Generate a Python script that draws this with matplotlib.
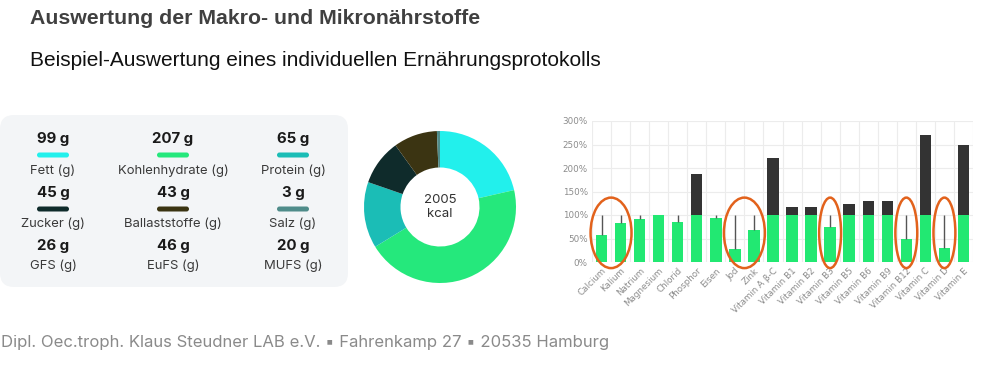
import numpy as np
import matplotlib
matplotlib.use("Agg")
import matplotlib.pyplot as plt
from matplotlib.patches import FancyBboxPatch, Ellipse

# --- data ---
macro_names = ["Fett (g)", "Kohlenhydrate (g)", "Protein (g)",
               "Zucker (g)", "Ballaststoffe (g)", "Salz (g)",
               "GFS (g)", "EuFS (g)", "MUFS (g)"]
macro_grams = [99, 207, 65, 45, 43, 3, 26, 46, 20]
macro_colors = ["#22f0ec", "#25e87c", "#1bbdb6", "#0f2b2b", "#3b3412", "#4f8c8a",
                None, None, None]

donut_values = macro_grams[:6]
donut_colors = macro_colors[:6]
kcal_total = 2005

micro_names = ["Calcium", "Kalium", "Natrium", "Magnesium", "Chlorid", "Phosphor",
               "Eisen", "Jod", "Zink", "Vitamin A β-C", "Vitamin B1", "Vitamin B2",
               "Vitamin B3", "Vitamin B5", "Vitamin B6", "Vitamin B9", "Vitamin B12",
               "Vitamin C", "Vitamin D", "Vitamin E"]
micro_pct = [57, 83, 91, 100, 86, 187, 94, 28, 69, 221, 116, 118,
             74, 124, 130, 130, 50, 270, 29, 250]
yticks = [0, 50, 100, 150, 200, 250, 300]

# groups marked with orange rings
marked = [["Calcium", "Kalium"], ["Jod", "Zink"], ["Vitamin B3"],
          ["Vitamin B12"], ["Vitamin D"]]

W, H = 983, 379
fig = plt.figure(figsize=(W / 100, H / 100), dpi=100)
fig.patch.set_facecolor("white")

def px_axes(x0, y0, x1, y1):
    # pixel box (top-left origin) -> figure axes
    return fig.add_axes([x0 / W, 1 - y1 / H, (x1 - x0) / W, (y1 - y0) / H])

# overlay for texts and the card
ov = px_axes(0, 0, W, H)
ov.set_xlim(0, W)
ov.set_ylim(H, 0)
ov.axis("off")

ui = ["Inter", "DejaVu Sans"]

ov.text(30, 18, "Auswertung der Makro- und Mikronährstoffe", fontsize=15.3,
        fontweight="bold", color="#404040", family="Liberation Sans", va="center")
ov.text(30, 60, "Beispiel-Auswertung eines individuellen Ernährungsprotokolls",
        fontsize=15, color="#111111", family="Liberation Sans", va="center")
ov.text(1, 342, "Dipl. Oec.troph. Klaus Steudner LAB e.V. ▪ Fahrenkamp 27 ▪ 20535 Hamburg",
        fontsize=12, color="#8a8a8a", family=ui, va="center")

card = FancyBboxPatch((0, 115), 348, 172, boxstyle="round,pad=0,rounding_size=14",
                      facecolor="#f3f5f7", edgecolor="none")
ov.add_patch(card)

col_x = [53, 173, 293]
row_val = [139, 193, 246]
row_lab = [171, 224, 266]
row_bar = [155, 209]
for i, (name, g, c) in enumerate(zip(macro_names, macro_grams, macro_colors)):
    r, k = divmod(i, 3)
    x = col_x[k]
    ov.text(x, row_val[r], f"{g} g", fontsize=10.8, fontweight="bold", color="#1a1a1a",
            family=ui, ha="center", va="center")
    ov.text(x, row_lab[r], name, fontsize=9.4, color="#3a3a3a", family=ui,
            ha="center", va="center")
    if c is not None:
        bar = FancyBboxPatch((x - 16, row_bar[r] - 2.5), 32, 5,
                             boxstyle="round,pad=0,rounding_size=2.5",
                             facecolor=c, edgecolor="none")
        ov.add_patch(bar)

# donut
ax_d = px_axes(440 - 76, 207 - 76, 440 + 76, 207 + 76)
ax_d.pie(donut_values, colors=donut_colors, startangle=90, counterclock=False,
         radius=1, wedgeprops=dict(width=0.48, edgecolor="none"))
ax_d.set_xlim(-1, 1)
ax_d.set_ylim(-1, 1)
ax_d.set_aspect("equal")
ax_d.text(0, 0, f"{kcal_total}\nkcal", ha="center", va="center", fontsize=9.5,
          color="#333333", family=ui, linespacing=1.3)

# bar chart
ax = px_axes(592, 121, 973, 262)
x = np.arange(len(micro_names))
vals = np.array(micro_pct)
green = np.minimum(vals, 100)
over = np.clip(vals - 100, 0, None)
ax.bar(x, green, width=0.6, color="#22e872", zorder=3)
ax.bar(x, over, width=0.6, bottom=100, color="#333333", zorder=3)
under = vals < 100
ax.vlines(x[under], vals[under], 100, color="#555555", lw=1, zorder=4)

ax.set_xlim(-0.5, len(micro_names) - 0.5)
ax.set_ylim(0, 300)
ax.set_yticks(yticks)
ax.set_yticklabels([f"{t}%" for t in yticks])
ax.set_xticks(x)
ax.set_xticklabels(micro_names, rotation=45, ha="right", rotation_mode="anchor")
ax.set_xticks(np.arange(-0.5, len(micro_names)), minor=True)
ax.grid(False)
ax.grid(True, which="minor", axis="x", color="#ececec", lw=0.8, zorder=0)
ax.grid(True, which="major", axis="y", color="#ececec", lw=0.8, zorder=0)
ax.tick_params(axis="both", which="both", length=0, labelsize=6.3, labelcolor="#8c8c8c",
               pad=3)
for s in ax.spines.values():
    s.set_visible(False)

for grp in marked:
    idx = [micro_names.index(n) for n in grp]
    cx = (min(idx) + max(idx)) / 2
    w = (max(idx) - min(idx)) + 1.15
    e = Ellipse((cx, 62), w, 150, facecolor="none", edgecolor="#e2621c", lw=1.8,
                clip_on=False, zorder=5)
    ax.add_patch(e)

fig.savefig("out.png", dpi=100)
